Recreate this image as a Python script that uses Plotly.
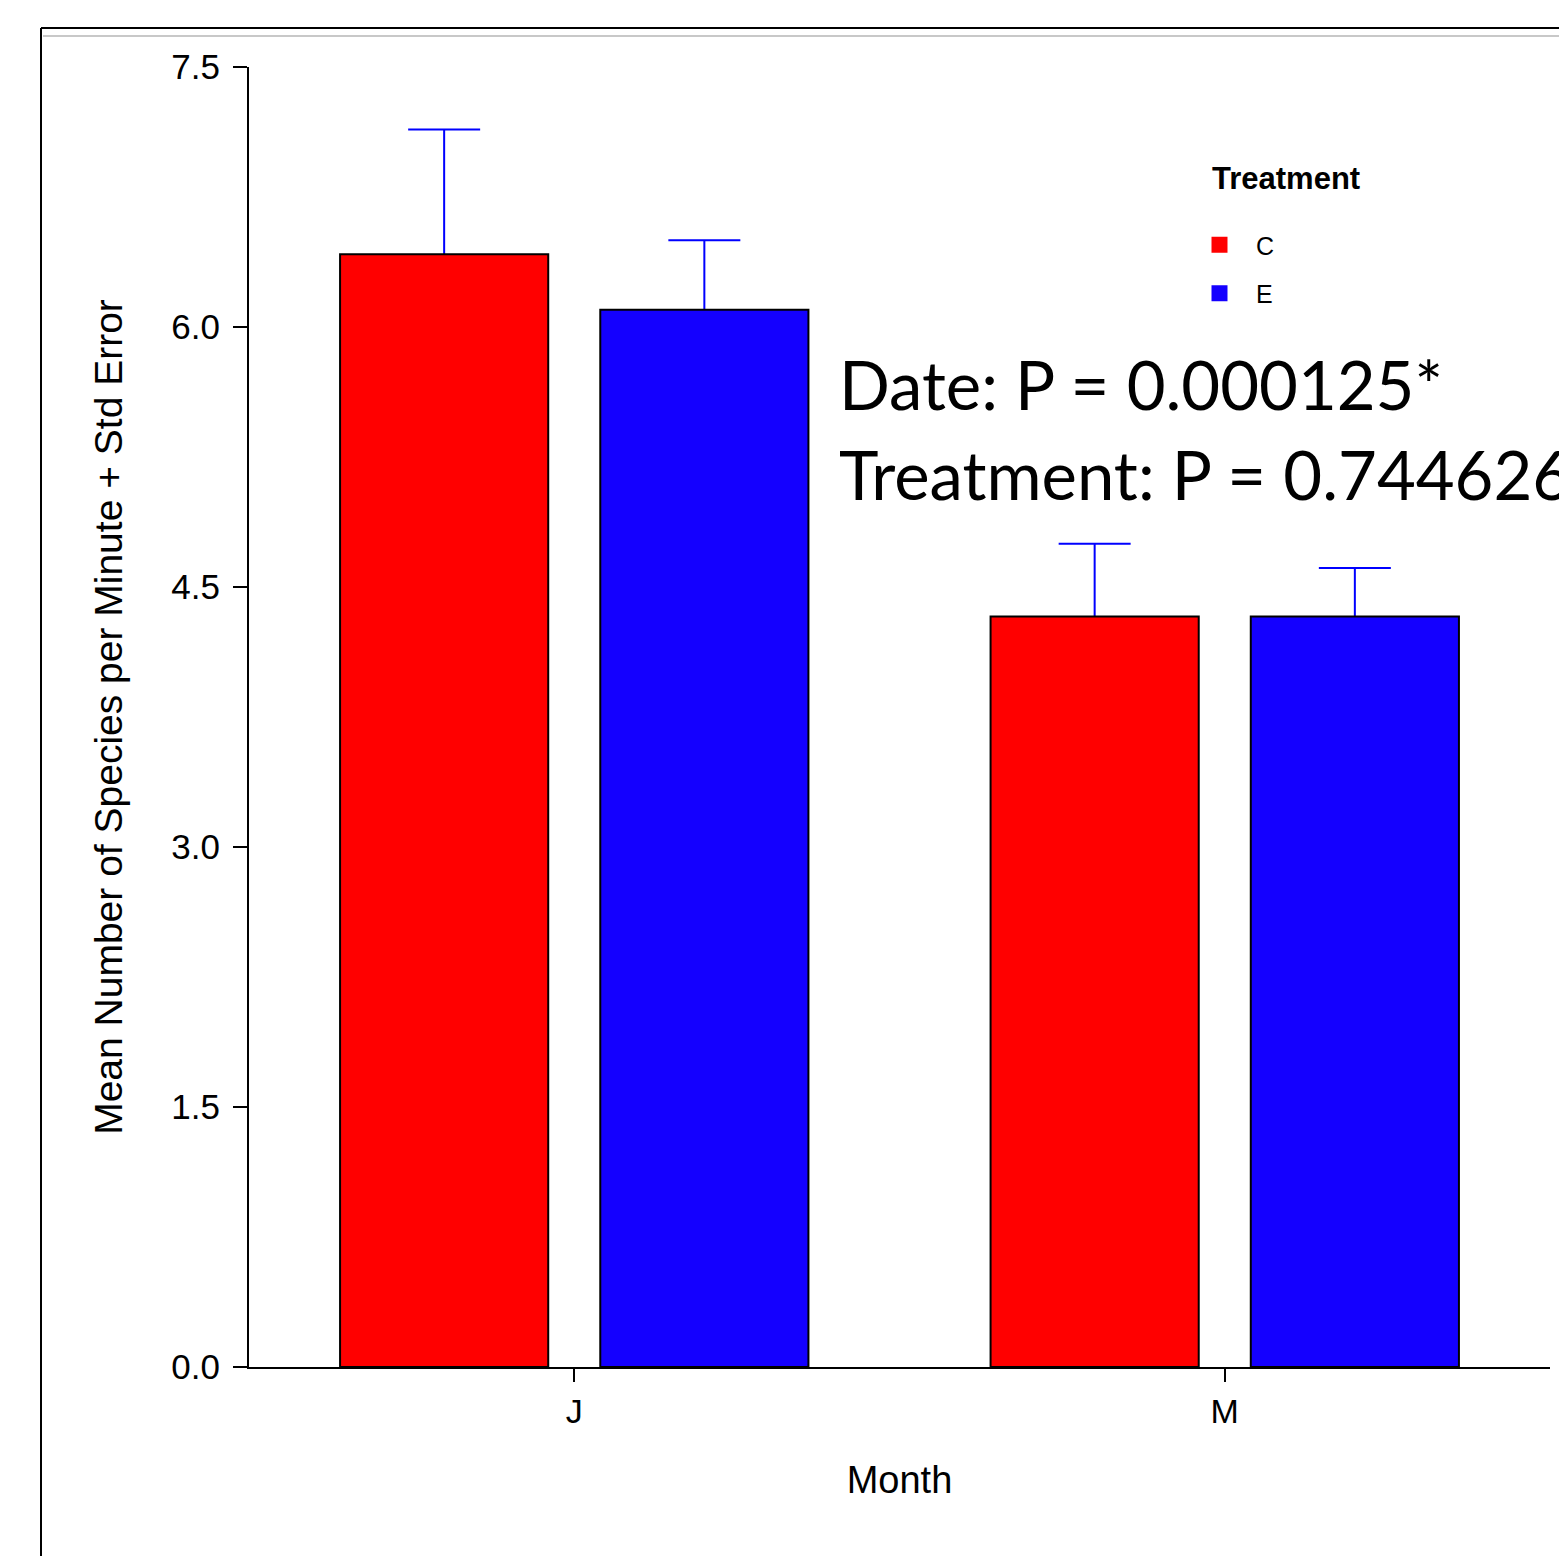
import plotly.graph_objects as go

months = ["J", "M"]
treatments = ["C", "E"]
mean_C = [6.42, 4.33]
se_C = [0.72, 0.42]
mean_E = [6.10, 4.33]
se_E = [0.40, 0.28]
bar_colors = {"C": "#FF0000", "E": "#1400FF"}
err_color = "#0000FF"
y_ticks = [0.0, 1.5, 3.0, 4.5, 6.0, 7.5]
stats_lines = ["Date: P = 0.000125*", "Treatment: P = 0.744626"]
legend_title = "Treatment"

fig = go.Figure()
series = {"C": (mean_C, se_C), "E": (mean_E, se_E)}

# error bars (plus only): carried by transparent bars underneath the visible ones
for t in treatments:
    m, s = series[t]
    fig.add_trace(go.Bar(
        x=months, y=m, offsetgroup=t, showlegend=False, hoverinfo="skip",
        marker=dict(color="rgba(0,0,0,0)", line=dict(width=0)),
        error_y=dict(type="data", array=s, arrayminus=m, symmetric=False,
                     color=err_color, thickness=2, width=36),
    ))
# visible bars
for t in treatments:
    m, s = series[t]
    fig.add_trace(go.Bar(
        x=months, y=m, offsetgroup=t, name=t, showlegend=False,
        marker=dict(color=bar_colors[t], line=dict(color="black", width=2)),
    ))
# legend entries
for t in treatments:
    fig.add_trace(go.Scatter(
        x=[None], y=[None], mode="markers", name=t, legendgroup=t,
        marker=dict(symbol="square", size=19, color=bar_colors[t]),
    ))

font_main = "Liberation Sans, Arial, sans-serif"

# page-pixel -> paper coordinates (plot area spans x 249..1550, y 67..1367 on the page)
px = lambda v: (v - 249) / 1301
py = lambda v: (1367 - v) / 1300

fig.update_layout(
    width=1559, height=1548,
    margin=dict(l=241, r=17, t=59, b=189),
    paper_bgcolor="white", plot_bgcolor="white",
    barmode="group", bargap=0.2, bargroupgap=0.2,
    font=dict(family=font_main, color="black", size=34),
    showlegend=True,
    legend=dict(
        x=px(1183), y=py(222), xanchor="left", yanchor="top",
        bgcolor="rgba(0,0,0,0)", itemwidth=63, tracegroupgap=13,
        font=dict(size=25, family=font_main),
        itemclick=False, itemdoubleclick=False,
    ),
    xaxis=dict(
        type="category", range=[-0.5, 1.5], showline=True, linecolor="black", linewidth=2,
        ticks="outside", ticklen=13, tickwidth=2, tickcolor="black", showgrid=False,
        tickfont=dict(size=34),
        title=dict(text="Month", font=dict(size=38), standoff=38),
        automargin=False,
    ),
    yaxis=dict(
        range=[0, 7.5], tickvals=y_ticks, tickformat=".1f", showline=True,
        linecolor="black", linewidth=2, ticks="outside", ticklen=14, tickwidth=2,
        tickcolor="black", showgrid=False, zeroline=False,
        tickfont=dict(size=35), ticklabelstandoff=6,
        title=dict(text="Mean Number of Species per Minute + Std Error", font=dict(size=39), standoff=37),
        automargin=False,
    ),
)

# legend heading
fig.add_annotation(
    text="<b>" + legend_title + "</b>", xref="paper", yref="paper",
    x=px(1210), y=py(178), xanchor="left", yanchor="middle", showarrow=False,
    font=dict(family=font_main, size=31, color="black"),
)

# statistics text
for i, txt in enumerate(stats_lines):
    fig.add_annotation(
        text=txt, xref="paper", yref="paper",
        x=px(837), y=py(384 + 90 * i),
        xanchor="left", yanchor="middle", showarrow=False,
        font=dict(family="Lato, Carlito, Calibri, sans-serif", size=67, color="black"),
    )

# page frame
fig.add_shape(type="line", xref="paper", yref="paper", x0=px(41), x1=px(1600), y0=py(28), y1=py(28),
              line=dict(color="black", width=2))
fig.add_shape(type="line", xref="paper", yref="paper", x0=px(41), x1=px(41), y0=py(28), y1=py(1600),
              line=dict(color="black", width=2))
fig.add_shape(type="line", xref="paper", yref="paper", x0=px(43), x1=px(1600), y0=py(36), y1=py(36),
              line=dict(color="#C8C8C8", width=2))

fig.write_html("out.html")
